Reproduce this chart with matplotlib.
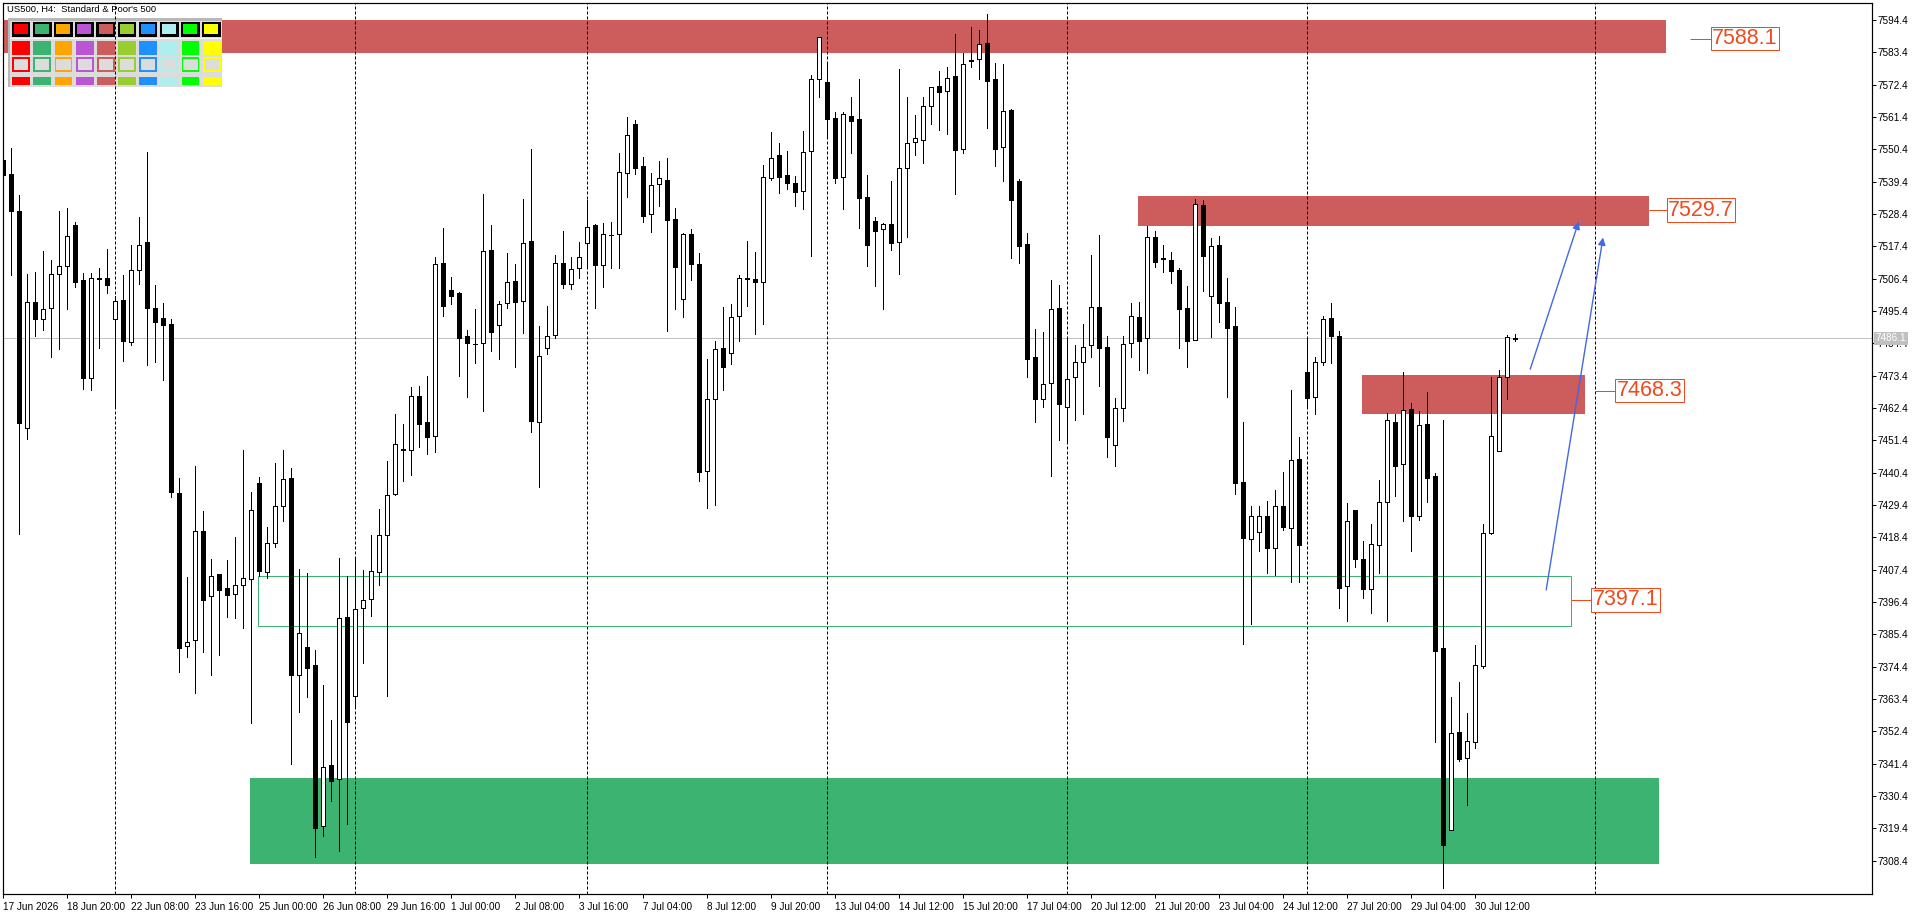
import matplotlib
matplotlib.use("Agg")
import matplotlib.pyplot as plt
from matplotlib.patches import Rectangle, FancyArrowPatch
import numpy as np

# ---------------- data ----------------
opens = [7546.7, 7542.1, 7529.3, 7455.6, 7498.6, 7492.8, 7496.3, 7508.0, 7510.8, 7524.6,
         7506.0, 7472.7, 7506.4, 7506.5, 7492.8, 7499.1, 7484.9, 7509.5, 7518.7, 7496.3,
         7493.1, 7490.8, 7433.4, 7381.3, 7383.3, 7420.7, 7398.3, 7405.9, 7401.0, 7399.1,
         7402.3, 7404.2, 7436.7, 7406.5, 7416.3, 7429.0, 7438.6, 7371.7, 7381.1, 7374.9,
         7320.0, 7340.9, 7336.0, 7391.4, 7364.5, 7394.2, 7397.3, 7406.5, 7419.2, 7433.0,
         7448.6, 7448.0, 7466.3, 7457.5, 7452.7, 7511.6, 7502.5, 7501.5, 7486.8, 7484.3,
         7484.4, 7516.1, 7490.6, 7498.0, 7505.5, 7498.7, 7519.2, 7457.5, 7482.7, 7487.1,
         7511.6, 7504.5, 7510.0, 7518.4, 7524.5, 7510.9, 7521.3, 7521.5, 7542.2, 7558.9,
         7544.7, 7528.3, 7538.5, 7539.8, 7526.6, 7499.4, 7521.5, 7511.3, 7441.0, 7465.3,
         7482.7, 7481.0, 7493.7, 7506.6, 7506.2, 7505.4, 7540.5, 7548.3, 7541.5, 7538.8,
         7536.1, 7549.8, 7574.3, 7573.2, 7560.9, 7540.9, 7561.9, 7560.6, 7534.1, 7525.9,
         7523.2, 7524.9, 7518.7, 7543.9, 7552.8, 7553.5, 7565.0, 7571.9, 7570.1, 7575.3,
         7550.4, 7580.7, 7581.0, 7586.5, 7574.3, 7551.1, 7563.8, 7539.6, 7518.2, 7479.8,
         7465.3, 7470.8, 7496.3, 7462.6, 7472.8, 7478.0, 7483.7, 7496.6, 7483.1, 7449.7,
         7462.3, 7484.4, 7493.2, 7486.1, 7520.5, 7513.3, 7512.7, 7509.4, 7496.4, 7485.5,
         7531.4, 7500.4, 7517.8, 7498.4, 7490.2, 7437.3, 7417.7, 7420.3, 7425.8, 7414.9,
         7429.2, 7421.6, 7445.2, 7474.8, 7466.1, 7477.9, 7492.9, 7486.8, 7401.7, 7427.6,
         7410.9, 7400.9, 7415.7, 7430.3, 7457.6, 7443.5, 7462.1, 7425.8, 7456.8, 7439.4,
         7380.8, 7318.7, 7352.1, 7343.4, 7348.7, 7374.7, 7419.7, 7447.7, 7473.1, 7486.0]
highs = [7548.0, 7550.7, 7535.0, 7508.0, 7508.8, 7515.8, 7512.8, 7529.3, 7530.3, 7525.6,
         7508.3, 7508.3, 7510.0, 7516.4, 7500.4, 7507.7, 7517.7, 7527.3, 7549.5, 7504.2,
         7498.1, 7492.8, 7438.4, 7404.9, 7442.8, 7427.3, 7411.0, 7405.9, 7410.8, 7418.4,
         7448.1, 7433.8, 7438.9, 7421.9, 7443.7, 7448.1, 7441.8, 7407.7, 7406.1, 7380.2,
         7368.1, 7356.2, 7411.3, 7405.2, 7411.3, 7407.2, 7419.1, 7428.0, 7444.3, 7460.4,
         7456.9, 7469.5, 7469.9, 7473.3, 7513.7, 7523.5, 7506.8, 7501.7, 7488.8, 7496.1,
         7535.1, 7524.5, 7498.8, 7515.0, 7511.4, 7533.4, 7550.5, 7490.3, 7497.1, 7514.4,
         7522.6, 7513.8, 7518.7, 7533.1, 7524.9, 7525.3, 7525.7, 7549.0, 7561.4, 7560.4,
         7547.8, 7542.3, 7546.4, 7547.4, 7530.3, 7521.9, 7523.3, 7515.0, 7479.1, 7485.2,
         7496.7, 7497.8, 7507.6, 7519.3, 7515.4, 7544.9, 7556.2, 7552.5, 7549.8, 7541.2,
         7556.6, 7575.6, 7588.7, 7580.0, 7563.0, 7563.0, 7568.1, 7574.2, 7541.7, 7527.4,
         7525.5, 7539.5, 7577.6, 7568.1, 7562.1, 7568.1, 7571.7, 7577.0, 7578.4, 7589.6,
         7583.1, 7592.0, 7591.0, 7596.4, 7579.7, 7579.4, 7564.1, 7540.3, 7521.8, 7489.3,
         7488.1, 7505.8, 7504.1, 7486.2, 7483.7, 7490.8, 7514.3, 7521.2, 7486.8, 7465.9,
         7486.8, 7498.0, 7498.4, 7524.3, 7522.5, 7517.8, 7515.3, 7509.9, 7503.8, 7533.6,
         7533.0, 7520.3, 7520.9, 7506.6, 7496.7, 7457.6, 7428.9, 7428.9, 7430.7, 7434.6,
         7440.5, 7468.4, 7452.5, 7486.0, 7479.9, 7493.7, 7498.1, 7488.6, 7430.1, 7427.6,
         7417.2, 7423.0, 7437.9, 7460.7, 7460.2, 7474.6, 7464.1, 7461.5, 7467.7, 7440.2,
         7458.2, 7364.2, 7369.2, 7358.6, 7381.6, 7423.0, 7473.1, 7475.3, 7487.2, 7487.5]
lows = [7541.0, 7507.5, 7419.6, 7451.9, 7486.9, 7489.0, 7479.6, 7482.6, 7496.1, 7503.7,
        7469.0, 7468.4, 7482.9, 7501.6, 7462.9, 7478.5, 7483.9, 7504.5, 7477.1, 7478.0,
        7472.0, 7432.1, 7372.4, 7377.5, 7365.5, 7379.5, 7371.4, 7378.2, 7391.2, 7390.9,
        7387.6, 7355.2, 7405.2, 7404.4, 7415.0, 7423.9, 7341.4, 7359.0, 7364.0, 7309.6,
        7316.7, 7328.7, 7311.7, 7320.8, 7360.7, 7375.5, 7391.7, 7402.3, 7364.5, 7432.9,
        7437.6, 7439.6, 7449.2, 7446.6, 7447.5, 7493.8, 7497.8, 7473.4, 7466.2, 7477.8,
        7461.5, 7481.9, 7479.2, 7496.3, 7476.4, 7488.0, 7454.3, 7435.6, 7480.9, 7486.3,
        7503.3, 7502.8, 7506.5, 7509.9, 7496.5, 7503.7, 7510.1, 7510.1, 7534.3, 7542.0,
        7525.8, 7522.4, 7531.2, 7488.7, 7496.2, 7493.5, 7505.9, 7437.6, 7428.5, 7429.4,
        7468.4, 7477.2, 7485.2, 7497.0, 7487.5, 7490.8, 7540.0, 7535.6, 7536.8, 7531.0,
        7530.0, 7514.2, 7568.3, 7554.6, 7539.0, 7530.2, 7549.3, 7523.5, 7510.8, 7504.0,
        7496.2, 7516.1, 7508.1, 7520.7, 7548.6, 7545.9, 7559.0, 7557.0, 7555.7, 7535.3,
        7549.3, 7578.5, 7574.3, 7557.8, 7544.7, 7539.7, 7513.5, 7511.8, 7473.0, 7457.5,
        7462.8, 7439.4, 7451.4, 7450.7, 7458.4, 7460.4, 7479.7, 7470.0, 7445.7, 7442.8,
        7457.9, 7479.8, 7475.4, 7474.4, 7510.5, 7508.5, 7504.8, 7482.7, 7476.2, 7485.5,
        7502.3, 7486.6, 7491.7, 7466.1, 7433.1, 7382.2, 7388.8, 7413.8, 7406.2, 7405.4,
        7420.8, 7403.3, 7403.3, 7462.7, 7460.2, 7477.0, 7477.8, 7394.3, 7389.8, 7408.2,
        7397.8, 7392.7, 7406.4, 7389.8, 7432.4, 7423.9, 7413.8, 7424.2, 7430.4, 7348.6,
        7299.0, 7318.7, 7342.4, 7327.2, 7346.6, 7373.8, 7419.4, 7447.7, 7465.6, 7485.2]
closes = [7541.8, 7529.3, 7457.2, 7498.4, 7492.8, 7496.1, 7508.0, 7510.8, 7520.9, 7505.3,
          7472.7, 7506.7, 7506.6, 7504.4, 7498.8, 7485.1, 7509.5, 7518.0, 7496.3, 7491.8,
          7490.5, 7433.8, 7380.8, 7382.6, 7420.7, 7397.0, 7405.1, 7400.6, 7398.6, 7402.0,
          7404.4, 7427.8, 7406.9, 7416.3, 7429.0, 7438.2, 7371.4, 7385.9, 7373.9, 7319.5,
          7340.4, 7335.5, 7390.9, 7355.4, 7394.0, 7397.0, 7406.9, 7419.1, 7432.8, 7450.0,
          7448.2, 7466.3, 7457.1, 7452.4, 7511.3, 7497.0, 7500.6, 7486.3, 7484.6, 7484.2,
          7515.7, 7488.4, 7497.7, 7505.1, 7498.6, 7518.4, 7458.1, 7480.0, 7486.8, 7511.6,
          7504.5, 7509.6, 7513.9, 7524.1, 7510.9, 7521.5, 7521.2, 7542.6, 7555.2, 7544.2,
          7527.8, 7538.1, 7540.5, 7526.5, 7510.5, 7521.5, 7511.5, 7440.5, 7465.3, 7482.3,
          7476.4, 7493.2, 7506.5, 7506.4, 7505.4, 7540.9, 7547.4, 7541.1, 7538.8, 7535.8,
          7549.6, 7574.2, 7588.7, 7560.6, 7540.7, 7562.3, 7560.1, 7533.9, 7517.9, 7522.7,
          7524.9, 7518.6, 7543.9, 7552.4, 7554.4, 7565.0, 7571.5, 7570.0, 7574.5, 7550.3,
          7579.3, 7580.5, 7586.1, 7573.8, 7550.6, 7563.3, 7533.3, 7517.6, 7479.2, 7465.5,
          7470.5, 7495.9, 7463.6, 7472.1, 7478.0, 7483.2, 7496.6, 7482.9, 7452.6, 7462.3,
          7484.0, 7493.6, 7485.3, 7520.5, 7512.2, 7513.1, 7509.1, 7496.0, 7485.2, 7531.7,
          7514.2, 7517.5, 7498.2, 7489.7, 7436.9, 7418.0, 7425.5, 7425.5, 7414.6, 7428.9,
          7421.9, 7444.8, 7415.7, 7465.8, 7477.9, 7492.6, 7486.8, 7401.3, 7424.1, 7410.9,
          7400.9, 7416.0, 7430.3, 7458.2, 7442.5, 7461.6, 7425.5, 7456.5, 7438.6, 7379.7,
          7313.6, 7351.8, 7343.1, 7349.0, 7374.9, 7419.7, 7452.8, 7472.8, 7486.4, 7486.1]

x_tick_bars = [0, 8, 16, 24, 32, 40, 48, 56, 64, 72, 80, 88, 96, 104, 112, 120,
               128, 136, 144, 152, 160, 168, 176, 184]
x_tick_labels = ["17 Jun 2026", "18 Jun 20:00", "22 Jun 08:00", "23 Jun 16:00",
                 "25 Jun 00:00", "26 Jun 08:00", "29 Jun 16:00", "1 Jul 00:00",
                 "2 Jul 08:00", "3 Jul 16:00", "7 Jul 04:00", "8 Jul 12:00",
                 "9 Jul 20:00", "13 Jul 04:00", "14 Jul 12:00", "15 Jul 20:00",
                 "17 Jul 04:00", "20 Jul 12:00", "21 Jul 20:00", "23 Jul 04:00",
                 "24 Jul 12:00", "27 Jul 20:00", "29 Jul 04:00", "30 Jul 12:00"]
y_ticks = [7594.4, 7583.4, 7572.4, 7561.4, 7550.4, 7539.4, 7528.4, 7517.4, 7506.4,
           7495.4, 7484.4, 7473.4, 7462.4, 7451.4, 7440.4, 7429.4, 7418.4, 7407.4,
           7396.4, 7385.4, 7374.4, 7363.4, 7352.4, 7341.4, 7330.4, 7319.4, 7308.4]
week_separator_bars = [14, 44, 73, 103, 133, 163, 199]
current_price = 7486.1

# supply / demand zones
red_zone_low = [7583.1, 7524.4, 7460.5]
red_zone_high = [7594.4, 7534.5, 7473.5]
red_zone_start = [-2.0, 141.9, 169.9]
red_zone_end = [207.9, 205.75, 197.8]
red_zone_label = ["7588.1", "7529.7", "7468.3"]
red_label_line = [(210.9, 213.6), (205.75, 208.1), (198.96, 201.7)]

demand_low, demand_high, demand_start, demand_end = 7307.1, 7336.6, 30.9, 207.0
box_low, box_high, box_start, box_end = 7388.3, 7405.3, 31.9, 196.0
box_label = "7397.1"
box_label_line = (196.0, 198.7)

arrow_tails = [(190.9, 7475.6), (192.9, 7400.5)]
arrow_tips = [(196.96, 7525.8), (200.0, 7520.4)]

palette_colors = ["#FF0000", "#3CB371", "#FFA500", "#BA55D3", "#CD5C5C",
                  "#9ACD32", "#1E90FF", "#AFEEEE", "#00FF00", "#FFFF00"]

# ---------------- figure ----------------
W, H, DPI = 1920, 915, 100
FONT = "Liberation Sans"
plt.rcParams["font.family"] = [FONT, "DejaVu Sans"]
fig = plt.figure(figsize=(W / DPI, H / DPI), dpi=DPI)
L, R, T, B = 2.7, 1872.3, 2.7, 894.0
ax = fig.add_axes([L / W, 1 - B / H, (R - L) / W, (B - T) / H])
ax.set_xlim(-0.0375, 233.66)
ax.set_ylim(7297.02, 7600.29)
ax.set_facecolor("white")

PX = 72.0 / DPI  # one pixel in points
LBL_COLOR = "#EE4A1E"
RED = "#CD5C5C"
GREEN = "#3CB371"

# zones
for lo, hi, s, e in zip(red_zone_low, red_zone_high, red_zone_start, red_zone_end):
    ax.add_patch(Rectangle((s, lo), e - s, hi - lo, facecolor=RED, edgecolor="none", zorder=1))
ax.add_patch(Rectangle((demand_start, demand_low), demand_end - demand_start,
                       demand_high - demand_low, facecolor=GREEN, edgecolor="none", zorder=1))
ax.add_patch(Rectangle((box_start, box_low), box_end - box_start, box_high - box_low,
                       facecolor="none", edgecolor=GREEN, linewidth=PX, zorder=2.5))

# current price line
ax.axhline(current_price, color="#C0C0C0", linewidth=PX, zorder=1.6)

# week separators
for b in week_separator_bars:
    ax.axvline(b, color="black", linewidth=PX, linestyle=(0, (3, 2)), zorder=1.8)

# palette panel (UI overlay, figure pixel coordinates)
def px_rect(x, y, w, h, **kw):
    r = Rectangle((x / W, 1 - (y + h) / H), w / W, h / H, transform=fig.transFigure,
                  clip_on=False, **kw)
    ax.add_patch(r)
    return r

px_rect(8.3, 18.3, 213.4, 69.0, facecolor="#DCDCDC", edgecolor="none", zorder=1.5)
px_rect(8.3, 18.3, 213.4, 2.2, facecolor="#B8B8B8", edgecolor="none", zorder=1.51)
px_rect(8.3, 18.3, 2.0, 69.0, facecolor="#B8B8B8", edgecolor="none", zorder=1.51)
px_rect(10.3, 38.0, 211.4, 1.3, facecolor="#F4F4F4", edgecolor="none", zorder=1.51)
for k, col in enumerate(palette_colors):
    x0 = 11.7 + 21.17 * k
    px_rect(x0, 21.7, 18.7, 15.0, facecolor="black", edgecolor="none", zorder=1.52)
    px_rect(x0 + 2.2, 23.9, 14.0, 10.4, facecolor=col, edgecolor="none", zorder=1.53)
    px_rect(x0 + 0.6, 40.7, 17.7, 14.3, facecolor=col, edgecolor="none", zorder=1.52)
    px_rect(x0 + 0.6, 57.3, 17.7, 14.4, facecolor=col, edgecolor="none", zorder=1.52)
    px_rect(x0 + 2.4, 59.1, 14.1, 10.8, facecolor="#DCDCDC", edgecolor="none", zorder=1.53)
    px_rect(x0 + 0.6, 76.7, 17.7, 8.3, facecolor=col, edgecolor="none", zorder=1.52)

# candles
o = np.array(opens); h = np.array(highs); l = np.array(lows); c = np.array(closes)
idx = np.arange(len(o))
up = c >= o
ax.vlines(idx, l, h, color="black", linewidth=PX, zorder=3, antialiased=False)
bottom = np.minimum(o, c)
height = np.abs(c - o)
ax.bar(idx[up], height[up], bottom=bottom[up], width=0.5, color="white",
       edgecolor="black", linewidth=PX, zorder=4, antialiased=False)
ax.bar(idx[~up], height[~up], bottom=bottom[~up], width=0.5, color="black",
       edgecolor="black", linewidth=PX, zorder=4, antialiased=False)

# level labels
def level_label(x_line, y, text):
    ax.plot(list(x_line), [y, y], color=LBL_COLOR, linewidth=PX, zorder=6,
            solid_capstyle="butt")
    ax.text(x_line[1], y, text, ha="left", va="center", fontsize=15.5, color=LBL_COLOR,
            family=FONT, zorder=7,
            bbox=dict(boxstyle="square,pad=0.06", facecolor="white", edgecolor=LBL_COLOR,
                      linewidth=PX))

for lbl, xl in zip(red_zone_label, red_label_line):
    level_label(xl, float(lbl), lbl)
level_label(box_label_line, float(box_label), box_label)

# arrows
for (tx, ty), (hx, hy) in zip(arrow_tails, arrow_tips):
    ax.add_patch(FancyArrowPatch((tx, ty), (hx, hy), arrowstyle="-|>", mutation_scale=11,
                                 color="#4169E1", linewidth=1.0, zorder=8,
                                 shrinkA=0, shrinkB=0))

# axes / ticks
for sp in ax.spines.values():
    sp.set_linewidth(1.2 * PX)
    sp.set_color("black")
    sp.set_zorder(10)
ax.yaxis.tick_right()
ax.set_yticks(y_ticks)
ax.set_yticklabels([f"{v:.1f}" for v in y_ticks])
ax.set_xticks(x_tick_bars)
ax.set_xticklabels(x_tick_labels)
ax.tick_params(axis="y", direction="out", length=3.0, width=PX, labelsize=7.2, pad=1.0,
               colors="black")
ax.tick_params(axis="x", direction="out", length=3.0, width=PX, labelsize=7.2, pad=2.5,
               colors="black")
for t in ax.get_xticklabels():
    t.set_ha("left")
    t.set_family(FONT)
for t in ax.get_yticklabels():
    t.set_family(FONT)

# current price tag on the axis
ax.text(1.0 + 3.5 / (R - L), current_price, f"{current_price:.1f}",
        transform=ax.get_yaxis_transform(), ha="left", va="center", fontsize=7.2,
        color="white", family=FONT, zorder=12, clip_on=False,
        bbox=dict(boxstyle="square,pad=0.15", facecolor="#C0C0C0", edgecolor="none"))

# title
fig.text(6.7 / W, 1 - 9.5 / H, "US500, H4:  Standard & Poor's 500", ha="left", va="center",
         fontsize=6.8, color="black", family=FONT)

fig.savefig("out.png", dpi=DPI, facecolor="white")
